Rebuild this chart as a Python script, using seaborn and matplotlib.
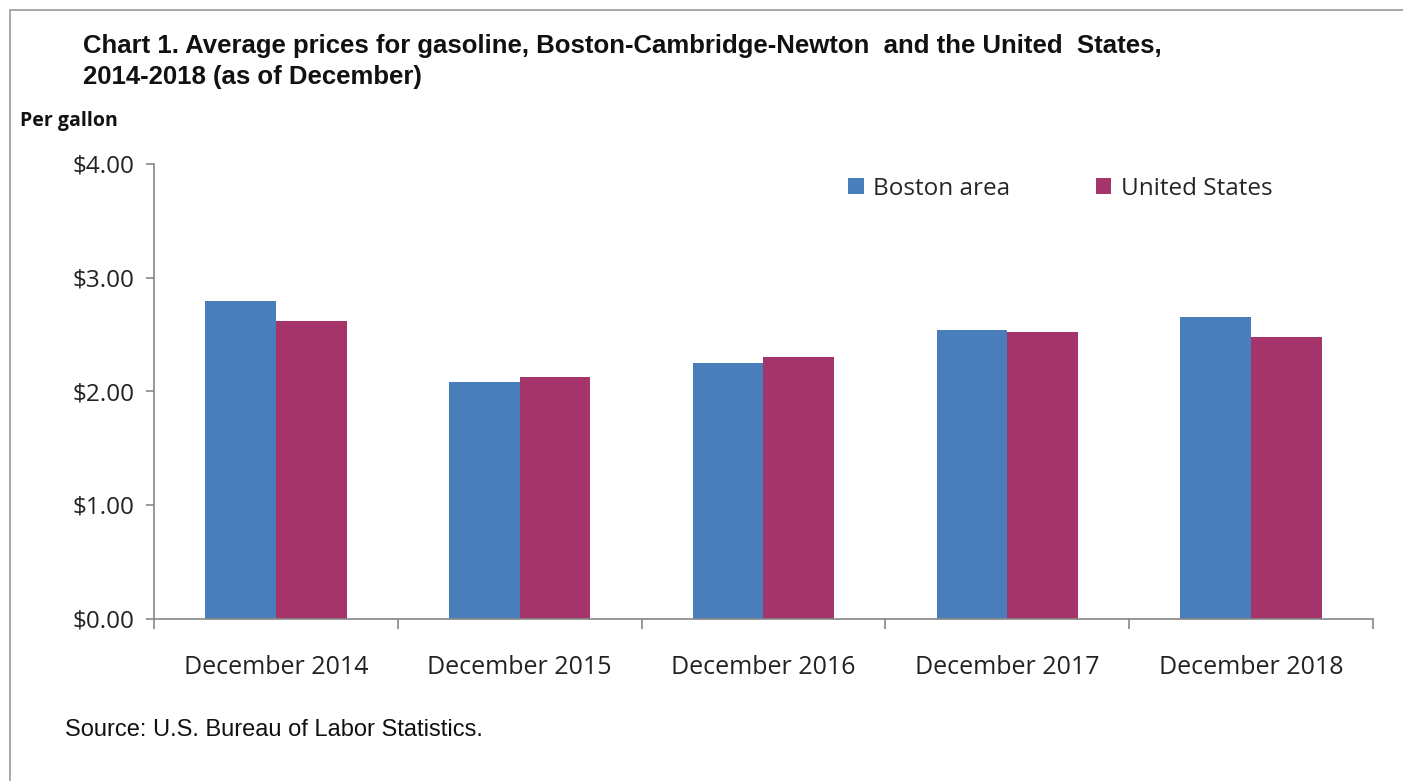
import matplotlib
matplotlib.use("Agg")
import matplotlib.pyplot as plt
import matplotlib.font_manager as fm
from matplotlib.patches import Rectangle, Patch
import seaborn as sns
import pandas as pd

categories = ["December 2014", "December 2015", "December 2016", "December 2017", "December 2018"]
series_names = ["Boston area", "United States"]
boston = [2.79, 2.085, 2.245, 2.54, 2.655]
united_states = [2.615, 2.125, 2.30, 2.52, 2.48]
y_ticks = [0, 1, 2, 3, 4]
y_tick_labels = ["$0.00", "$1.00", "$2.00", "$3.00", "$4.00"]
colors = ["#4A7EBB", "#A5346A"]

title = "Chart 1. Average prices for gasoline, Boston-Cambridge-Newton  and the United  States,\n2014-2018 (as of December)"
ylabel = "Per gallon"
source = "Source: U.S. Bureau of Labor Statistics."

df = pd.DataFrame({
    "category": categories * 2,
    "series": [series_names[0]] * len(categories) + [series_names[1]] * len(categories),
    "value": boston + united_states,
})

sns.set_theme(style="white")
names = {f.name for f in fm.fontManager.ttflist}
narrow = "Liberation Sans Narrow" if "Liberation Sans Narrow" in names else "Liberation Sans"
plt.rcParams["font.family"] = ["Open Sans", "DejaVu Sans"]

fig = plt.figure(figsize=(14.03, 7.81), dpi=100)
ax = fig.add_axes([154 / 1403, 1 - 618.5 / 781, (1373 - 154) / 1403, (618.5 - 164) / 781])

sns.barplot(data=df, x="category", y="value", hue="series", palette=colors,
            width=0.58, ax=ax, saturation=1, legend=False, linewidth=0)

ax.set_ylim(0, 4)
ax.set_xlim(-0.5, len(categories) - 0.5)
ax.set_yticks(y_ticks)
ax.set_yticklabels(y_tick_labels, fontsize=17.5, color="#222222")
ax.set_xticks(range(len(categories)))
ax.set_xticklabels(categories, fontsize=18, color="#222222")
ax.set_xlabel("")
ax.set_ylabel("")
for s in ["top", "right"]:
    ax.spines[s].set_visible(False)
for s in ["left", "bottom"]:
    ax.spines[s].set_color("#888888")
    ax.spines[s].set_linewidth(1.2)
ax.tick_params(axis="y", which="major", direction="out", length=6, width=1.2, color="#888888", pad=8, left=True)
ax.tick_params(axis="x", which="major", length=0, pad=26)
# category boundary ticks
ax.set_xticks([i - 0.5 for i in range(len(categories) + 1)], minor=True)
ax.tick_params(axis="x", which="minor", direction="out", length=7, width=1.2, color="#888888", bottom=True)

handles = [Patch(facecolor=c, edgecolor="none") for c in colors]
ax.legend(handles, series_names, loc="upper left", bbox_to_anchor=((826 - 154) / (1373 - 154), 1.02),
          ncol=2, frameon=False, fontsize=17.5, handlelength=0.65, handleheight=0.65,
          handletextpad=0.4, columnspacing=3.5)

fig.text(83 / 1403, 1 - 34 / 781, title, fontsize=18.5, fontweight="bold", family=narrow,
         va="top", ha="left", color="#111111", linespacing=1.35)
fig.text(20 / 1403, 1 - 121 / 781, ylabel, fontsize=14, fontweight="bold", va="center", ha="left", color="#111111")
fig.text(65 / 1403, 1 - 730 / 781, source, fontsize=17, family=narrow, va="center", ha="left", color="#111111")

fig.patches.append(Rectangle((10 / 1403, -0.1), 1.2, 1 - 10 / 781 + 0.1, transform=fig.transFigure,
                             fill=False, edgecolor="#999999", linewidth=1.2))

fig.savefig("out.png", dpi=100)
